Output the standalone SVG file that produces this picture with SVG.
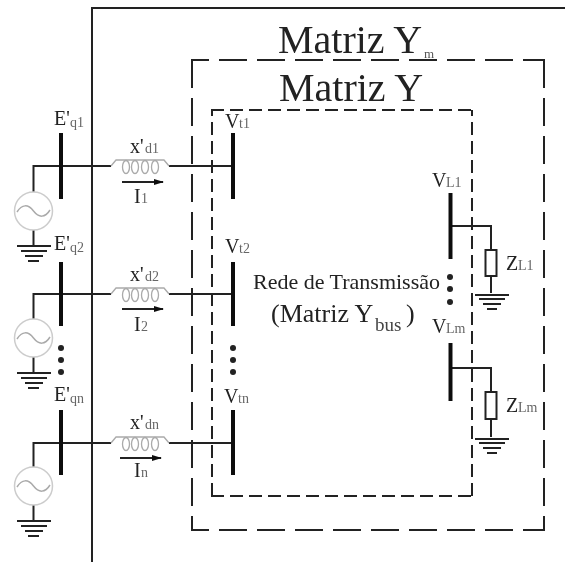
<svg xmlns="http://www.w3.org/2000/svg" width="565" height="562" viewBox="0 0 565 562">
<style>
text{font-family:"Liberation Serif","Times New Roman",serif;fill:#222}
.t{font-size:40px}
.l{font-size:20px}
.s{font-size:14px;fill:#666}
.w{fill:none;stroke:#222;stroke-width:2}
.bar{fill:none;stroke:#111;stroke-width:4}
.gen{fill:#fff;stroke:#ccc;stroke-width:1.5}
.wave{fill:none;stroke:#aaa;stroke-width:1.5}
.ind{fill:none;stroke:#aaa;stroke-width:1.3}
.dot{fill:#222}
.res{fill:#fff;stroke:#222;stroke-width:2}
.do{fill:none;stroke:#222;stroke-width:2;stroke-dasharray:28 10}
.di{fill:none;stroke:#222;stroke-width:2;stroke-dasharray:13 6}
</style>
<defs>
<filter id="soft" x="0" y="0" width="100%" height="100%"><feGaussianBlur stdDeviation="0.4"/></filter>
<marker id="arr" markerWidth="10" markerHeight="8" refX="9" refY="4" orient="auto" markerUnits="userSpaceOnUse"><path d="M0 1L10 4L0 7Z" fill="#111"/></marker>
<g id="gnd"><path class="w" d="M17 0H51M21 5H47M25 10H43M28 15H39"/></g>
<g id="gen"><circle class="gen" cx="33.5" cy="0" r="19"/><path class="wave" d="M17 1C22 -7 28 -7 33.5 0C39 7 45 7 50 -1"/></g>
<g id="ind"><path class="ind" d="M111 0L116 -6H164L169 0"/><g class="ind"><ellipse cx="126" cy="1" rx="3.500" ry="6.500"/><ellipse cx="135" cy="1" rx="3.500" ry="6.500"/><ellipse cx="145" cy="1" rx="3.500" ry="6.500"/><ellipse cx="155" cy="1" rx="3.500" ry="6.500"/></g></g>
<g id="gndr"><path class="w" d="M475 0H509M479 4H505M483 9H501M487 14H497"/></g>
</defs>
<g filter="url(#soft)">
<rect width="565" height="562" fill="#fff"/>
<g id="frame"><path class="w" d="M92 562V8H565"/></g>
<g id="boxes">
<g id="matriz-ym-box"><path class="do" stroke-dashoffset="10" d="M191 60H545"/><path class="do" stroke-dashoffset="10" d="M191 530H545"/><path class="do" stroke-dashoffset="14" d="M192 530V60"/><path class="do" stroke-dashoffset="14" d="M544 530V60"/></g>
<g id="matriz-y-box"><path class="di" d="M211 110H473"/><path class="di" d="M211 496H473"/><path class="di" d="M212 496V110"/><path class="di" d="M472 496V110"/></g>
</g>
<g id="connectors">
<path class="w" d="M33.500 192V166H111M169 166H233"/>
<path class="w" d="M33.500 319V294H111M169 294H233"/>
<path class="w" d="M33.500 467V443H111M169 443H233"/>
<path class="w" d="M33.500 230V246M33.500 357V373M33.500 505V521"/>
<path class="w" d="M122 182H163" marker-end="url(#arr)"/>
<path class="w" d="M122 309H163" marker-end="url(#arr)"/>
<path class="w" d="M120 458H161" marker-end="url(#arr)"/>
<path class="w" d="M450 226H491V250M491 276V293M450 368H491V392M491 419V437"/>
</g>
<g id="title-ym"><text class="t" x="278" y="53">Matriz Y</text><text x="424" y="58" style="font-size:13px;fill:#555">m</text></g>
<g id="title-y"><text class="t" x="279" y="101">Matriz Y</text></g>
<g id="center"><text x="253" y="289" style="font-size:22px">Rede de Transmissão</text><text x="271" y="322" style="font-size:26px">(Matriz Y</text><text x="375" y="331" style="font-size:19px;fill:#444">bus</text><text x="406" y="322" style="font-size:26px">)</text></g>
<g id="gen1"><use href="#gen" y="211"/><use href="#gnd" y="246"/></g>
<g id="gen2"><use href="#gen" y="338"/><use href="#gnd" y="373"/></g>
<g id="gen3"><use href="#gen" y="486"/><use href="#gnd" y="521"/></g>
<g id="bus-e1"><path class="bar" d="M61 133V199"/><text class="l" x="54" y="125">E'</text><text class="s" x="70" y="127">q1</text></g>
<g id="bus-e2"><path class="bar" d="M61 262V326"/><text class="l" x="54" y="250">E'</text><text class="s" x="70" y="252">q2</text></g>
<g id="bus-en"><path class="bar" d="M61 410V475"/><text class="l" x="54" y="401">E'</text><text class="s" x="70" y="403">qn</text></g>
<g id="dots-e"><circle class="dot" cx="61" cy="348" r="3"/><circle class="dot" cx="61" cy="360" r="3"/><circle class="dot" cx="61" cy="372" r="3"/></g>
<g id="ind1"><use href="#ind" y="166"/><text class="l" x="130" y="153">x'</text><text class="s" x="145" y="153">d1</text><text class="l" x="134" y="203">I</text><text class="s" x="141" y="203">1</text></g>
<g id="ind2"><use href="#ind" y="294"/><text class="l" x="130" y="281">x'</text><text class="s" x="145" y="281">d2</text><text class="l" x="134" y="331">I</text><text class="s" x="141" y="331">2</text></g>
<g id="ind3"><use href="#ind" y="443"/><text class="l" x="130" y="429">x'</text><text class="s" x="145" y="429">dn</text><text class="l" x="134" y="477">I</text><text class="s" x="141" y="477">n</text></g>
<g id="bus-v1"><path class="bar" d="M233 133V199"/><text class="l" x="225" y="128">V</text><text class="s" x="239" y="128">t1</text></g>
<g id="bus-v2"><path class="bar" d="M233 262V326"/><text class="l" x="225" y="253">V</text><text class="s" x="239" y="253">t2</text></g>
<g id="bus-vn"><path class="bar" d="M233 410V475"/><text class="l" x="224" y="403">V</text><text class="s" x="238" y="403">tn</text></g>
<g id="dots-v"><circle class="dot" cx="233" cy="348" r="3"/><circle class="dot" cx="233" cy="360" r="3"/><circle class="dot" cx="233" cy="372" r="3"/></g>
<g id="bus-l1"><path class="bar" d="M450.500 193V259"/><text class="l" x="432" y="187">V</text><text class="s" x="446" y="187">L1</text></g>
<g id="bus-lm"><path class="bar" d="M450.500 343V401"/><text class="l" x="432" y="333">V</text><text class="s" x="446" y="333">Lm</text></g>
<g id="dots-l"><circle class="dot" cx="450" cy="277" r="3"/><circle class="dot" cx="450" cy="289" r="3"/><circle class="dot" cx="450" cy="302" r="3"/></g>
<g id="load1"><rect class="res" x="485.500" y="250" width="11" height="26"/><use href="#gndr" y="295"/><text class="l" x="506" y="270">Z</text><text class="s" x="518" y="270">L1</text></g>
<g id="loadm"><rect class="res" x="485.500" y="392" width="11" height="27"/><use href="#gndr" y="439"/><text class="l" x="506" y="412">Z</text><text class="s" x="518" y="412">Lm</text></g>
</g>
</svg>
